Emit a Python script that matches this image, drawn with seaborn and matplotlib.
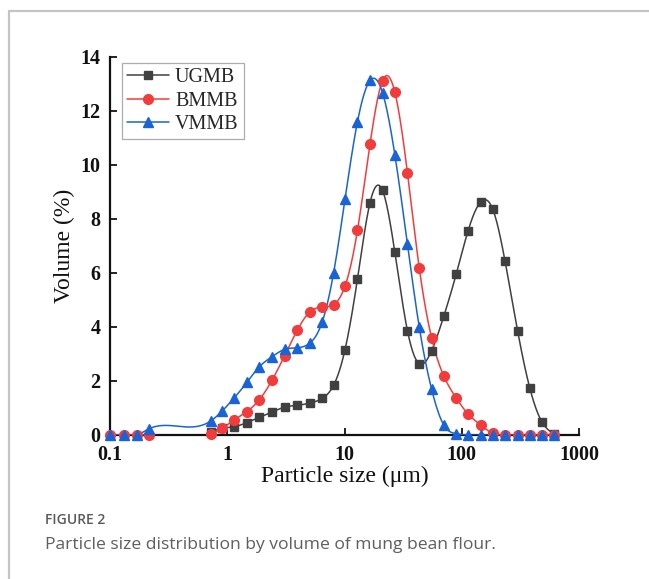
import numpy as np
import pandas as pd
import matplotlib
matplotlib.use("Agg")
import matplotlib.pyplot as plt
from matplotlib.lines import Line2D
import seaborn as sns

# ---------------- data ----------------
ugmb_size = [0.72, 0.91, 1.15, 1.47, 1.88, 2.41, 3.08, 3.95, 5.05, 6.47, 8.07,
             10.1, 12.9, 16.5, 21.1, 26.9, 34.4, 43.4, 55.3, 70.5, 90, 113, 145,
             184, 234, 300, 381, 485, 615]
ugmb_vol = [0.12, 0.25, 0.31, 0.46, 0.66, 0.85, 1.03, 1.10, 1.18, 1.36, 1.84,
            3.16, 5.78, 8.60, 9.06, 6.76, 3.87, 2.64, 3.12, 4.42, 5.98, 7.55, 8.63,
            8.36, 6.44, 3.84, 1.73, 0.47, 0.04]

bmmb_size = [0.1, 0.132, 0.169, 0.213, 0.72, 0.91, 1.15, 1.47, 1.88, 2.41, 3.08,
             3.95, 5.05, 6.47, 8.07, 10.1, 12.9, 16.5, 21.1, 26.9, 34.4, 43.4, 55.3,
             70.5, 90, 113, 145, 184, 234, 300, 381, 485, 615]
bmmb_vol = [0.0, 0.0, 0.0, 0.0, 0.03, 0.26, 0.56, 0.87, 1.31, 2.03, 2.93,
            3.88, 4.55, 4.74, 4.83, 5.51, 7.58, 10.77, 13.12, 12.69, 9.72, 6.19, 3.60,
            2.17, 1.36, 0.78, 0.37, 0.06, 0.0, 0.0, 0.0, 0.0, 0.0]

vmmb_size = [0.1, 0.132, 0.169, 0.213, 0.73, 0.91, 1.15, 1.47, 1.88, 2.41, 3.08,
             3.95, 5.05, 6.47, 8.07, 10.1, 12.9, 16.5, 21.1, 26.9, 34.4, 43.4, 55.3,
             70.5, 90, 113, 145, 184, 234, 300, 381, 485, 615]
vmmb_vol = [0.0, 0.0, 0.0, 0.22, 0.53, 0.90, 1.38, 1.95, 2.53, 2.90, 3.17,
            3.23, 3.40, 4.20, 6.00, 8.73, 11.60, 13.13, 12.68, 10.37, 7.08, 4.00, 1.70,
            0.36, 0.05, 0.0, 0.0, 0.0, 0.0, 0.0, 0.0, 0.0, 0.0]

series_names = ["UGMB", "BMMB", "VMMB"]
x_ticks = [0.1, 1, 10, 100, 1000]
x_tick_labels = ["0.1", "1", "10", "100", "1000"]
y_ticks = [0, 2, 4, 6, 8, 10, 12, 14]

colors = {"UGMB": "#404040", "BMMB": "#f23c3c", "VMMB": "#1a63d6"}
markers = {"UGMB": "s", "BMMB": "o", "VMMB": "^"}
msizes = {"UGMB": 6.0, "BMMB": 7.0, "VMMB": 7.5}


def natural_spline(x, y, xs):
    x = np.asarray(x, float)
    y = np.asarray(y, float)
    n = len(x)
    h = np.diff(x)
    A = np.zeros((n, n))
    b = np.zeros(n)
    A[0, 0] = 1.0
    A[-1, -1] = 1.0
    for i in range(1, n - 1):
        A[i, i - 1] = h[i - 1]
        A[i, i] = 2 * (h[i - 1] + h[i])
        A[i, i + 1] = h[i]
        b[i] = 6 * ((y[i + 1] - y[i]) / h[i] - (y[i] - y[i - 1]) / h[i - 1])
    M = np.linalg.solve(A, b)
    idx = np.clip(np.searchsorted(x, xs) - 1, 0, n - 2)
    x0, x1 = x[idx], x[idx + 1]
    hh = x1 - x0
    t0 = x1 - xs
    t1 = xs - x0
    return (M[idx] * t0 ** 3 / (6 * hh) + M[idx + 1] * t1 ** 3 / (6 * hh)
            + (y[idx] / hh - M[idx] * hh / 6) * t0
            + (y[idx + 1] / hh - M[idx + 1] * hh / 6) * t1)


sns.set_theme(style="ticks")
plt.rcParams["font.family"] = ["Liberation Serif", "DejaVu Serif"]

fig = plt.figure(figsize=(6.49, 5.79), dpi=100)
ax = fig.add_axes([110 / 649, 1 - 435 / 579, (579 - 110) / 649, (435 - 57) / 579])

data = {
    "UGMB": (ugmb_size, ugmb_vol),
    "BMMB": (bmmb_size, bmmb_vol),
    "VMMB": (vmmb_size, vmmb_vol),
}

for k, name in enumerate(series_names):
    sx, sv = data[name]
    lx = np.log10(sx)
    dense = np.linspace(lx[0], lx[-1], 800)
    curve = natural_spline(lx, sv, dense)
    df_curve = pd.DataFrame({"size": 10 ** dense, "vol": curve})
    sns.lineplot(data=df_curve, x="size", y="vol", ax=ax, color=colors[name],
                 lw=1.1, zorder=2 + k, estimator=None, sort=False)
    df_pts = pd.DataFrame({"size": sx, "vol": sv})
    ax.plot(df_pts["size"], df_pts["vol"], ls="none", marker=markers[name],
            ms=msizes[name], color=colors[name], mec=colors[name], zorder=5 + k,
            clip_on=False)

ax.set_xscale("log")
ax.set_xlim(0.1, 1000)
ax.set_ylim(0, 14)
ax.set_xticks(x_ticks)
ax.set_xticklabels(x_tick_labels)
ax.xaxis.set_minor_locator(matplotlib.ticker.NullLocator())
ax.set_yticks(y_ticks)
ax.tick_params(axis="both", direction="in", length=5, width=1.3, colors="#111111",
               labelsize=14.5)
ax.tick_params(axis="x", pad=7)
ax.tick_params(axis="y", pad=7)
for lab in ax.get_xticklabels() + ax.get_yticklabels():
    lab.set_fontweight("bold")
for s in ["top", "right"]:
    ax.spines[s].set_visible(False)
for s in ["left", "bottom"]:
    ax.spines[s].set_linewidth(1.6)
    ax.spines[s].set_color("#111111")

ax.set_xlabel("Particle size (μm)", fontsize=17, labelpad=1, color="#111111")
ax.set_ylabel("Volume (%)", fontsize=17, labelpad=4, color="#111111")

handles = [Line2D([0], [0], color=colors[n], lw=1.1, marker=markers[n],
                  ms=msizes[n], mec=colors[n]) for n in series_names]
leg = ax.legend(handles, series_names, loc="upper left", bbox_to_anchor=(0.012, 1.0),
                frameon=True, fancybox=False, edgecolor="#999999", fontsize=14.5,
                handlelength=2.1, handletextpad=0.3, borderpad=0.25,
                labelspacing=0.22, borderaxespad=0.3)
leg.get_frame().set_linewidth(0.9)

# card frame and caption
fig.add_artist(Line2D([9 / 649, 9 / 649], [0, 1 - 11 / 579], color="#c4c4c4",
                      lw=1.6, transform=fig.transFigure))
fig.add_artist(Line2D([9 / 649, 1], [1 - 11 / 579, 1 - 11 / 579], color="#c4c4c4",
                      lw=1.6, transform=fig.transFigure))
fig.text(45 / 649, 1 - 520 / 579, "FIGURE 2", family=["Open Sans", "DejaVu Sans"],
         fontsize=10, color="#5a5a5a", va="center", ha="left", fontweight="semibold")
fig.text(45 / 649, 1 - 545 / 579, "Particle size distribution by volume of mung bean flour.",
         family=["Open Sans", "DejaVu Sans"], fontsize=12.6, color="#5f5f5f",
         va="center", ha="left")

fig.savefig("out.png", dpi=100)
